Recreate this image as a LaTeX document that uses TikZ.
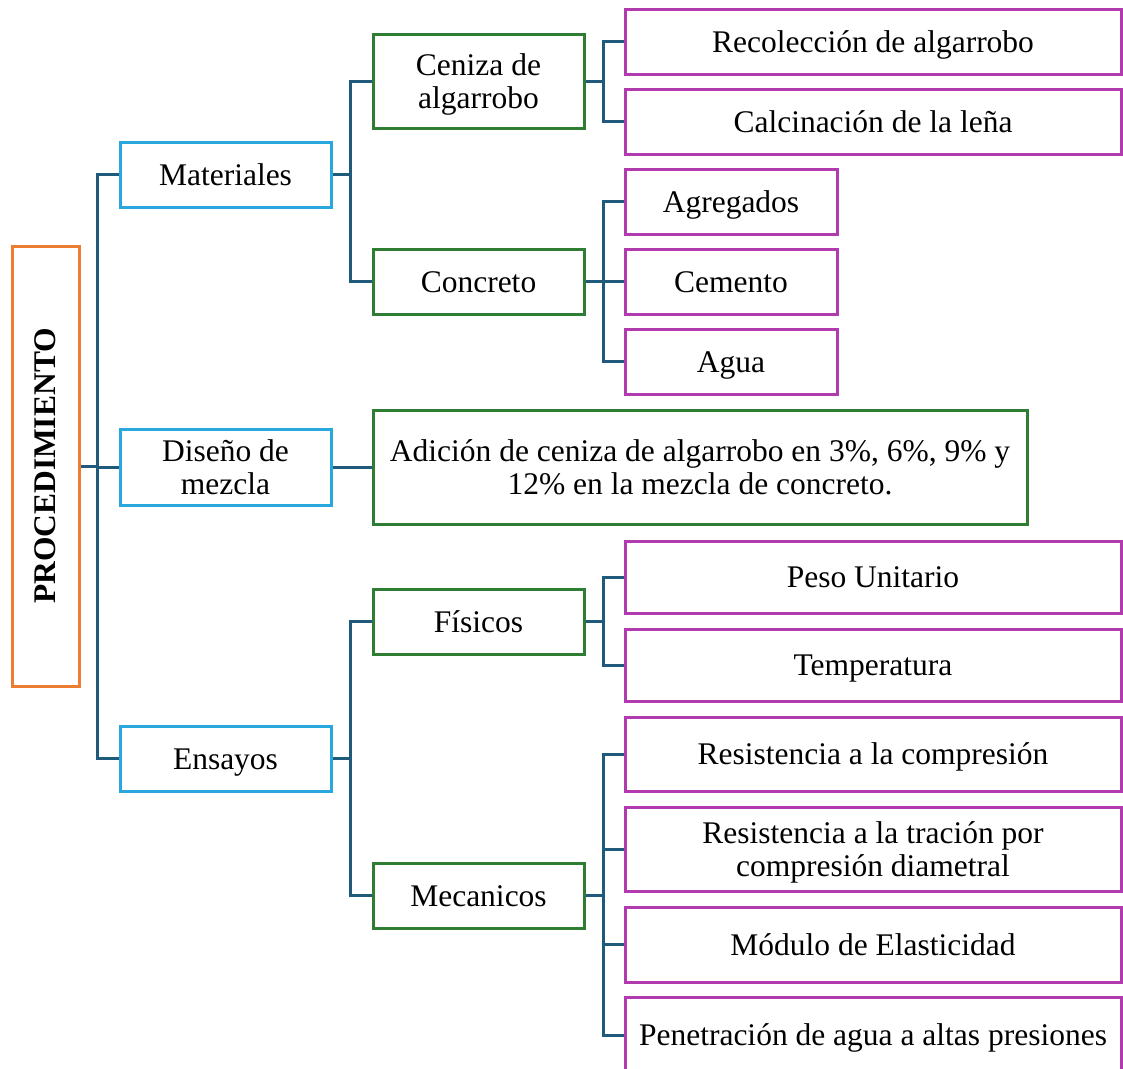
\documentclass[tikz,border=0pt]{standalone}
\usepackage{fontspec}
\setmainfont{Liberation Serif}
\definecolor{conn}{RGB}{31,90,122}
\definecolor{corange}{RGB}{237,125,49}
\definecolor{cblue}{RGB}{41,168,224}
\definecolor{cgreen}{RGB}{46,125,50}
\definecolor{cmag}{RGB}{176,58,174}
\newcommand\sa{\rule[-8pt]{0pt}{37pt}}
\newcommand\sz{\rule[-8pt]{0pt}{8pt}}
\begin{document}
\begin{tikzpicture}[x=1pt,y=-1pt,
  box/.style={draw, line width=3pt, rectangle, inner sep=0pt, align=center,
    font=\fontsize{31.5}{33}\selectfont, fill=white},
  lvl0/.style={box, draw=corange},
  lvl1/.style={box, draw=cblue, minimum width=211},
  lvl2/.style={box, draw=cgreen},
  lvl3/.style={box, draw=cmag},
  link/.style={draw=conn, line width=3pt}]
\clip (0,0) rectangle (1123,1068);
\fill[white] (0,0) rectangle (1123,1068);
% root
\node[lvl0, minimum width=67, minimum height=440] (proc) at (45.5,466) {\rotatebox{90}{\bfseries PROCEDIMIENTO}};
% level 1
\node[lvl1, minimum height=65] (mat) at (225.5,174.5) {\sa Materiales};
\node[lvl1, minimum height=76] (dis) at (225.5,467) {\sa Diseño de\\mezcla\sz};
\node[lvl1, minimum height=65] (ens) at (225.5,758.5) {\sa Ensayos};
% level 2
\node[lvl2, minimum width=211, minimum height=94] (cen) at (478.5,81) {\sa Ceniza de\\algarrobo\sz};
\node[lvl2, minimum width=211, minimum height=65] (con) at (478.5,281.5) {\sa Concreto};
\node[lvl2, minimum width=654, minimum height=114] (adi) at (700,467) {\sa Adición de ceniza de algarrobo en 3\%, 6\%, 9\% y\\12\% en la mezcla de concreto.\sz};
\node[lvl2, minimum width=211, minimum height=65] (fis) at (478.5,621.5) {\sa Físicos};
\node[lvl2, minimum width=211, minimum height=65] (mec) at (478.5,895.5) {\sa Mecanicos};
% level 3
\node[lvl3, minimum width=496, minimum height=65] (rec) at (873,41.5) {\sa Recolección de algarrobo};
\node[lvl3, minimum width=496, minimum height=65] (cal) at (873,121.5) {\sa Calcinación de la leña};
\node[lvl3, minimum width=212, minimum height=65] (agr) at (731,201.5) {\sa Agregados};
\node[lvl3, minimum width=212, minimum height=65] (cem) at (731,281.5) {\sa Cemento};
\node[lvl3, minimum width=212, minimum height=65] (agu) at (731,361.5) {\sa Agua};
\node[lvl3, minimum width=496, minimum height=72] (pes) at (873,577) {\sa Peso Unitario};
\node[lvl3, minimum width=496, minimum height=72] (tem) at (873,665) {\sa Temperatura};
\node[lvl3, minimum width=496, minimum height=74] (rco) at (873,754) {\sa Resistencia a la compresión};
\node[lvl3, minimum width=496, minimum height=84] (rtr) at (873,849) {\sa Resistencia a la tración por\\compresión diametral\sz};
\node[lvl3, minimum width=496, minimum height=75] (mod) at (873,944.5) {\sa Módulo de Elasticidad};
\node[lvl3, minimum width=496, minimum height=76] (pen) at (873,1035) {\sa Penetración de agua a altas presiones};
% connectors
\foreach \c in {mat,dis,ens}
  \draw[link] (\c.west) -- ++(-21,0) |- (proc.east);
\foreach \c in {cen,con}
  \draw[link] (\c.west) -- ++(-21,0) |- (mat.east);
\draw[link] (dis.east) -- (adi.west);
\foreach \c in {fis,mec}
  \draw[link] (\c.west) -- ++(-21,0) |- (ens.east);
\foreach \c in {rec,cal}
  \draw[link] (\c.west) -- ++(-20,0) |- (cen.east);
\foreach \c in {agr,cem,agu}
  \draw[link] (\c.west) -- ++(-20,0) |- (con.east);
\foreach \c in {pes,tem}
  \draw[link] (\c.west) -- ++(-20,0) |- (fis.east);
\foreach \c in {rco,rtr,mod,pen}
  \draw[link] (\c.west) -- ++(-20,0) |- (mec.east);
\end{tikzpicture}
\end{document}
